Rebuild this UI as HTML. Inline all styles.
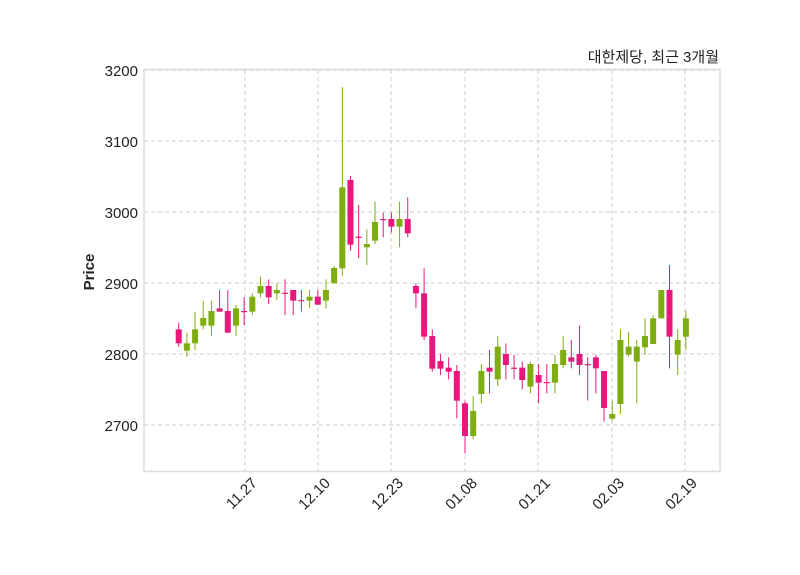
<!DOCTYPE html>
<html><head><meta charset="utf-8"><style>
html,body{margin:0;padding:0;background:#fff;width:800px;height:575px;overflow:hidden}
svg text{font-family:"Liberation Sans","Noto Sans CJK KR",sans-serif;fill:#222}
</style></head><body>
<svg id="s" width="800" height="575" xmlns="http://www.w3.org/2000/svg">
<rect x="144" y="69.5" width="576" height="402" fill="#fff" stroke="#ddd" stroke-width="1.5"/>
<g stroke="#ccc" stroke-dasharray="4,3" stroke-width="1">
<line x1="144" x2="720" y1="70" y2="70"/><line x1="144" x2="720" y1="141" y2="141"/>
<line x1="144" x2="720" y1="212" y2="212"/><line x1="144" x2="720" y1="283" y2="283"/>
<line x1="144" x2="720" y1="354" y2="354"/><line x1="144" x2="720" y1="425" y2="425"/>
<line x1="245" x2="245" y1="70" y2="471"/><line x1="318" x2="318" y1="70" y2="471"/>
<line x1="391" x2="391" y1="70" y2="471"/><line x1="465" x2="465" y1="70" y2="471"/>
<line x1="538" x2="538" y1="70" y2="471"/><line x1="612" x2="612" y1="70" y2="471"/>
<line x1="685" x2="685" y1="70" y2="471"/>
</g>
<g font-size="15" text-anchor="end">
<text x="138" y="76">3200</text><text x="138" y="147">3100</text><text x="138" y="218">3000</text>
<text x="138" y="289">2900</text><text x="138" y="360">2800</text><text x="138" y="431">2700</text>
</g>
<g font-size="15" text-anchor="end">
<text transform="translate(258,484) rotate(-45)">11.27</text>
<text transform="translate(331,484) rotate(-45)">12.10</text>
<text transform="translate(404,484) rotate(-45)">12.23</text>
<text transform="translate(478,484) rotate(-45)">01.08</text>
<text transform="translate(551,484) rotate(-45)">01.21</text>
<text transform="translate(625,484) rotate(-45)">02.03</text>
<text transform="translate(698,484) rotate(-45)">02.19</text>
</g>
<text transform="translate(94,272) rotate(-90)" font-size="15" font-weight="bold" text-anchor="middle">Price</text>
<text x="719" y="62" font-size="15" text-anchor="end">대한제당, 최근 3개월</text>
<g id="c"></g>
</svg>
<script>
var z1=[["P",488,508,550,560],["G",518,550,572,590],["G",455,508,550,570],["G",422,474,497,508],["G",422,453,497,528],["P",390,445,455,455],["P",390,453,518,518],["G",435,445,497,528],["P",412,453,456,495],["G",400,410,455,465],["G",350,378,400,412],["P",358,378,412,432],["G",370,390,400,420],["P",358,398,401,465],["P",390,390,422,465],["P",390,420,422,455],["G",390,410,422,445],["P",390,410,434,435],["G",358,390,422,445],["G",318,324,370,370],["G",-219,82,325,348],["P",48,60,254,272],["P",135,230,232,295],["G",208,252,262,315],["G",125,186,242,252],["P",158,177,179,232],["P",158,177,200,218],["G",125,177,200,262],["P",112,177,220,232]];
var z2=[["P",100,108,130,175],["P",55,130,260,270],["P",238,258,356,365],["P",312,333,356,375],["P",322,353,365,388],["P",345,363,452,505],["P",452,460,558,610],["G",438,483,558,568],["G",342,363,432,460],["P",300,353,365,430],["G",258,290,388,408],["P",280,312,345,388],["P",315,353,356,388],["P",335,353,390,418],["G",335,342,410,430],["P",342,375,398,460],["P",342,396,398,430],["G",315,342,398,430],["G",258,300,345,355],["P",270,322,335,355],["P",226,312,345,375],["P",322,342,345,452],["P",315,322,355,430],["P",363,363,474,515],["G",452,492,506,512],["G",238,270,462,492],["G",245,290,314,320],["G",270,290,335,460],["G",205,258,292,314],["G",196,205,282,282],["G",120,120,205,205],["P",45,120,260,355],["G",238,270,314,375],["G",183,205,260,300]];
var s="",i=0;
function add(a,off){var x=178.7+i*8.18;var col=a[0]=="P"?"#e8177c":"#7ead10";
var y=function(v){return off+v/3};
s+='<line x1="'+x+'" x2="'+x+'" y1="'+y(a[1])+'" y2="'+y(a[4])+'" stroke="'+col+'" stroke-width="1"/>';
var h=Math.max(y(a[3])-y(a[2]),1.2);
s+='<rect x="'+(x-3)+'" y="'+y(a[2])+'" width="6" height="'+h+'" fill="'+col+'"/>';i++;}
z1.forEach(function(a){add(a,160)});z2.forEach(function(a){add(a,250)});
document.getElementById("c").innerHTML=s;
</script>
</body></html>
